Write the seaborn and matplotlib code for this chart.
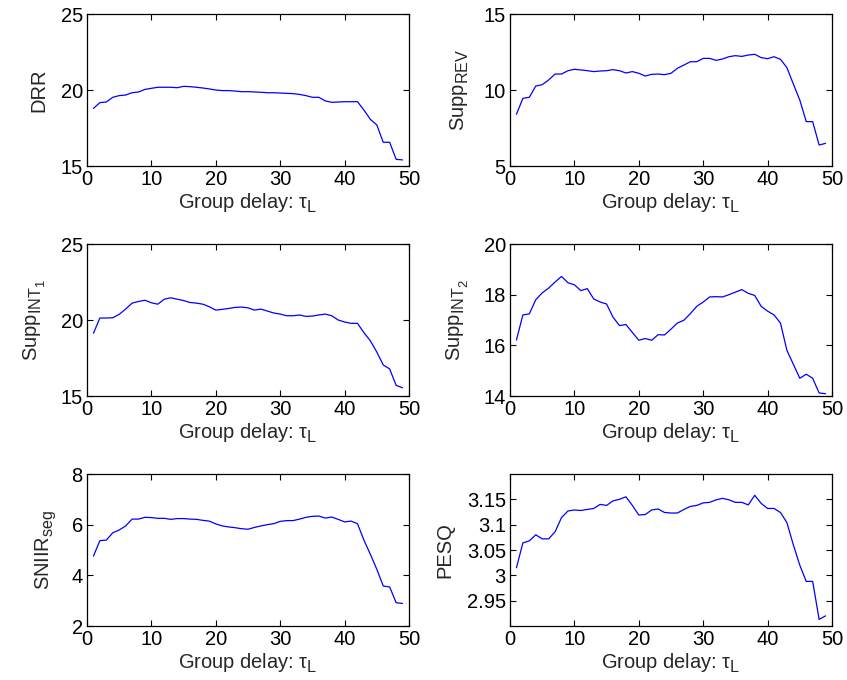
import numpy as np
import pandas as pd
import matplotlib
matplotlib.use("Agg")
import matplotlib.pyplot as plt
import seaborn as sns

try:
    import matplotlib._mathtext as _mt
    _mt.SHRINK_FACTOR = 0.8
    _mt.FontConstantsBase.sub1 = 0.45
    _mt.FontConstantsBase.sub2 = 0.55
except Exception:
    pass

delay = list(range(1, 50))

drr = [18.79, 19.17, 19.21, 19.52, 19.63, 19.67, 19.82, 19.87, 20.04, 20.11,
       20.18, 20.18, 20.18, 20.15, 20.24, 20.22, 20.18, 20.13, 20.07, 20.00,
       19.96, 19.96, 19.93, 19.89, 19.89, 19.87, 19.85, 19.82, 19.82, 19.80,
       19.78, 19.76, 19.71, 19.63, 19.52, 19.52, 19.28, 19.19, 19.21, 19.23,
       19.23, 19.23, 18.68, 18.07, 17.70, 16.56, 16.56, 15.44, 15.40]

supp_rev = [8.40, 9.45, 9.52, 10.26, 10.35, 10.66, 11.05, 11.05, 11.27, 11.36,
            11.32, 11.27, 11.21, 11.25, 11.27, 11.34, 11.27, 11.12, 11.21, 11.10,
            10.92, 11.03, 11.05, 11.01, 11.10, 11.43, 11.64, 11.86, 11.86, 12.08,
            12.08, 11.95, 12.04, 12.19, 12.26, 12.21, 12.30, 12.35, 12.13, 12.06,
            12.19, 12.02, 11.47, 10.39, 9.34, 7.92, 7.92, 6.38, 6.49]

supp_int1 = [19.13, 20.13, 20.13, 20.15, 20.37, 20.72, 21.11, 21.22, 21.30, 21.13,
             21.04, 21.37, 21.46, 21.37, 21.28, 21.15, 21.11, 21.04, 20.87, 20.65,
             20.70, 20.76, 20.83, 20.85, 20.80, 20.65, 20.72, 20.59, 20.46, 20.39,
             20.28, 20.28, 20.33, 20.24, 20.26, 20.33, 20.39, 20.28, 20.00, 19.87,
             19.78, 19.78, 19.17, 18.63, 17.89, 17.04, 16.78, 15.70, 15.54]

supp_int2 = [16.21, 17.20, 17.24, 17.80, 18.07, 18.26, 18.50, 18.72, 18.47, 18.39,
             18.16, 18.24, 17.83, 17.71, 17.63, 17.11, 16.78, 16.82, 16.51, 16.20,
             16.27, 16.20, 16.42, 16.41, 16.64, 16.88, 16.99, 17.25, 17.54, 17.71,
             17.91, 17.92, 17.91, 18.00, 18.10, 18.20, 18.05, 17.97, 17.54, 17.35,
             17.20, 16.88, 15.80, 15.25, 14.70, 14.86, 14.70, 14.12, 14.09]

sniir_seg = [4.76, 5.37, 5.39, 5.68, 5.79, 5.95, 6.22, 6.22, 6.29, 6.28,
             6.25, 6.25, 6.21, 6.24, 6.24, 6.22, 6.21, 6.17, 6.14, 6.03,
             5.95, 5.91, 5.88, 5.84, 5.82, 5.89, 5.95, 6.00, 6.04, 6.13,
             6.16, 6.16, 6.22, 6.29, 6.33, 6.34, 6.26, 6.30, 6.21, 6.11,
             6.14, 6.04, 5.39, 4.83, 4.24, 3.58, 3.54, 2.92, 2.89]

pesq = [3.015, 3.064, 3.068, 3.080, 3.072, 3.072, 3.086, 3.114, 3.127, 3.129,
        3.128, 3.130, 3.132, 3.140, 3.138, 3.147, 3.150, 3.155, 3.138, 3.119,
        3.120, 3.129, 3.131, 3.124, 3.123, 3.123, 3.130, 3.136, 3.138, 3.143,
        3.144, 3.149, 3.152, 3.149, 3.144, 3.144, 3.139, 3.158, 3.142, 3.132,
        3.132, 3.124, 3.104, 3.060, 3.020, 2.988, 2.988, 2.913, 2.920]

x_ticks = [0, 10, 20, 30, 40, 50]
xlabel_text = r'Group delay: $\tau_{\mathregular{L}}$'

panels = [
    (drr, r'DRR', (15, 25), [15, 20, 25], ['15', '20', '25']),
    (supp_rev, r'Supp$_{\mathregular{REV}}$', (5, 15), [5, 10, 15], ['5', '10', '15']),
    (supp_int1, r'Supp$_{\mathregular{INT}_{\mathregular{1}}}$', (15, 25), [15, 20, 25], ['15', '20', '25']),
    (supp_int2, r'Supp$_{\mathregular{INT}_{\mathregular{2}}}$', (14, 20), [14, 16, 18, 20], ['14', '16', '18', '20']),
    (sniir_seg, r'SNIIR$_{\mathregular{seg}}$', (2, 8), [2, 4, 6, 8], ['2', '4', '6', '8']),
    (pesq, r'PESQ', (2.9, 3.2), [2.95, 3.0, 3.05, 3.1, 3.15], ['2.95', '3', '3.05', '3.1', '3.15']),
]

sns.set_style("ticks")
plt.rcParams['font.family'] = ['Liberation Sans', 'DejaVu Sans']
plt.rcParams['mathtext.fontset'] = 'custom'
plt.rcParams['mathtext.rm'] = 'Liberation Sans'
plt.rcParams['mathtext.it'] = 'Liberation Sans'
plt.rcParams['mathtext.sf'] = 'Liberation Sans'
plt.rcParams['mathtext.bf'] = 'Liberation Sans:bold'

fig = plt.figure(figsize=(8.47, 6.8), dpi=100)

W = 847.0
H = 680.0
lefts = [87, 510]
tops = [14, 244, 474]
aw, ah = 322, 152

fs = 14.5
for i, (vals, ylab, ylim, yt, ytl) in enumerate(panels):
    r, c = divmod(i, 2)
    ax = fig.add_axes([lefts[c] / W, 1 - (tops[r] + ah) / H, aw / W, ah / H])
    df = pd.DataFrame({'delay': delay, 'value': vals})
    sns.lineplot(data=df, x='delay', y='value', ax=ax, color='#0000ff', linewidth=0.9)
    ax.set_xlim(0, 50)
    ax.set_ylim(*ylim)
    ax.set_xticks(x_ticks)
    ax.set_xticklabels([str(t) for t in x_ticks], fontsize=fs)
    ax.set_yticks(yt)
    ax.set_yticklabels(ytl, fontsize=fs)
    ax.tick_params(direction='in', top=True, right=True, length=4, width=0.8, pad=3, colors='black')
    ax.set_xlabel(xlabel_text, fontsize=fs, labelpad=1)
    ax.set_ylabel(ylab, fontsize=fs, labelpad=9)
    for s in ax.spines.values():
        s.set_visible(True)
        s.set_linewidth(0.9)
        s.set_color('black')

fig.savefig('out.png', dpi=100)
